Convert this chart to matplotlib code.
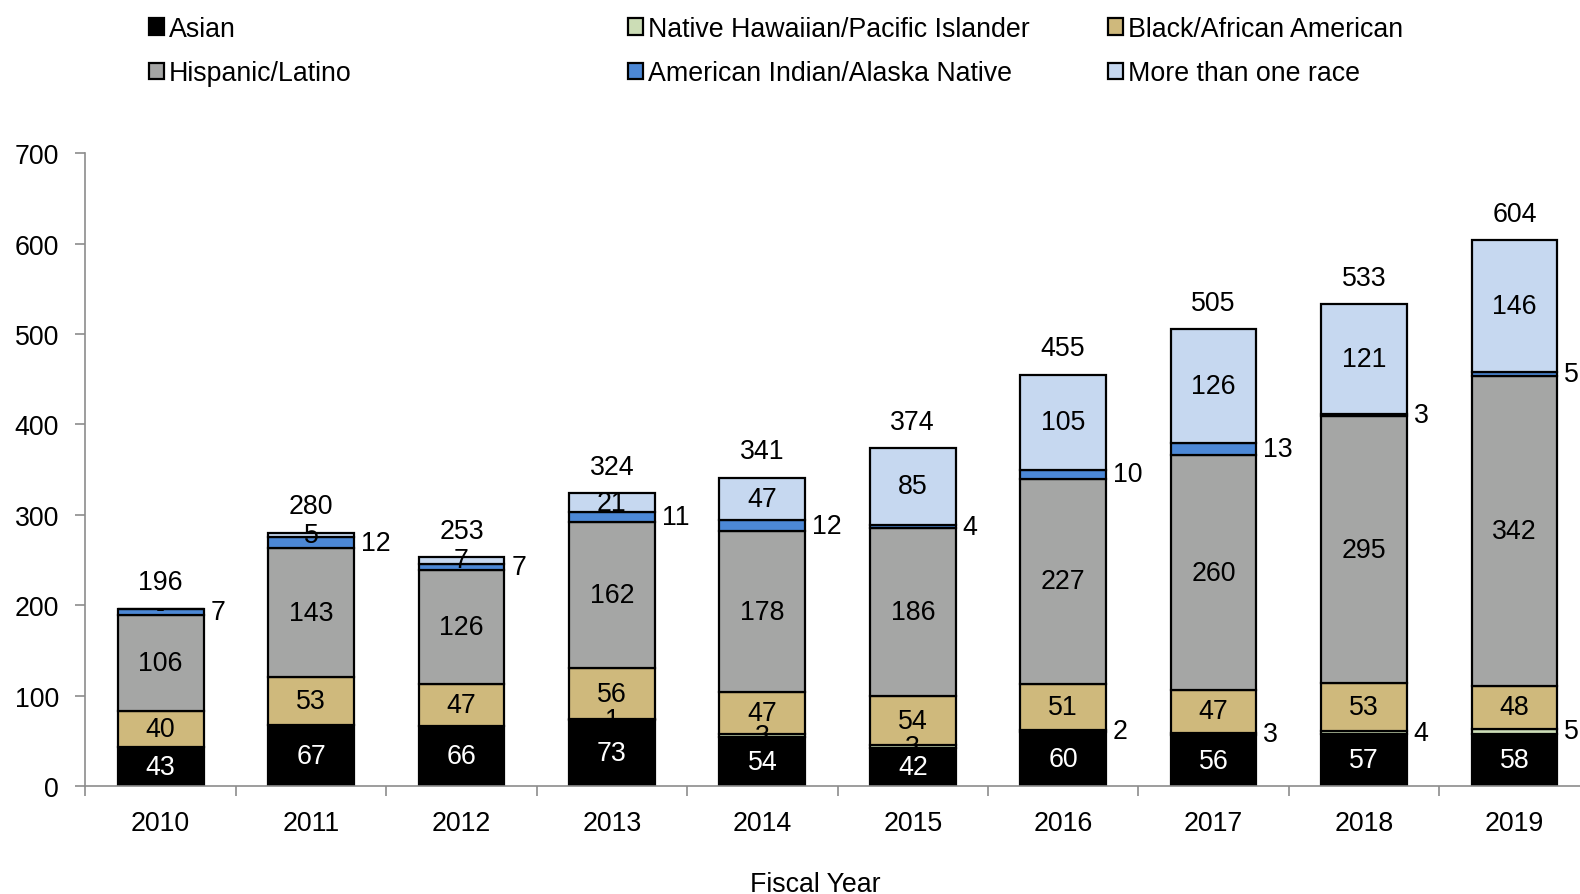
"""
Stacked bars by race, fiscal years 2010-2019
"""

import matplotlib.pyplot as plt
import numpy as np

plt.rcParams['font.family'] = ['Liberation Sans', 'DejaVu Sans']

# categories
years = ['2010', '2011', '2012', '2013', '2014', '2015', '2016', '2017', '2018', '2019']

# values per group, bottom to top of each stack
asian = [43, 67, 66, 73, 54, 42, 60, 56, 57, 58]
hawaiian = [0, 0, 0, 1, 3, 3, 2, 3, 4, 5]
black = [40, 53, 47, 56, 47, 54, 51, 47, 53, 48]
hispanic = [106, 143, 126, 162, 178, 186, 227, 260, 295, 342]
indian = [7, 12, 7, 11, 12, 4, 10, 13, 3, 5]
multi = [0, 5, 7, 21, 47, 85, 105, 126, 121, 146]

names = ['Asian', 'Native Hawaiian/Pacific Islander', 'Black/African American',
         'Hispanic/Latino', 'American Indian/Alaska Native', 'More than one race']
colores = ['#000000', '#CCDDB6', '#CFB97C', '#A5A6A5', '#4C88D6', '#C6D8F0']
series = [asian, hawaiian, black, hispanic, indian, multi]

x = np.arange(len(years))
width = 0.57
fs = 19.3

fig = plt.figure(figsize=(15.8, 8.95), dpi=100)
ax = fig.add_axes([0.0541, 0.1207, 0.952, 0.707])

bottom = np.zeros(len(years))
bars = []
for i, vals in enumerate(series):
    vals = np.array(vals)
    b = ax.bar(x, vals, width, bottom=bottom, color=colores[i], edgecolor='black',
               linewidth=1.6, label=names[i], zorder=2)
    bars.append(b)
    for j in range(len(years)):
        v = vals[j]
        mid = bottom[j] + v / 2
        # texto del segmento
        if i == 0:
            ax.text(x[j], mid, str(v), ha='center', va='center', color='white', fontsize=fs, zorder=4)
        elif i == 1:
            if v == 0:
                continue
            if j < 6:
                ax.text(x[j], mid, str(v), ha='center', va='center', fontsize=fs, zorder=4)
            else:
                ax.annotate(str(v), (x[j] + width / 2, mid), xytext=(5, 0), textcoords='offset points',
                            ha='left', va='center', fontsize=fs, zorder=4)
        elif i == 4:
            ax.annotate(str(v), (x[j] + width / 2, mid), xytext=(5, 0), textcoords='offset points',
                        ha='left', va='center', fontsize=fs, zorder=4)
        else:
            lab = str(v) if v != 0 else '-'
            ax.text(x[j], mid, lab, ha='center', va='center', fontsize=fs, zorder=4)
    bottom = bottom + vals

# totales arriba
for j in range(len(years)):
    ax.annotate(str(int(bottom[j])), (x[j], bottom[j]), xytext=(0, 19), textcoords='offset points',
                ha='center', va='center', fontsize=fs)

# ejes
ax.set_xlim(-0.5, len(years) - 0.5)
ax.set_ylim(0, 700)
ax.set_yticks(np.arange(0, 701, 100))
ax.set_xticks(x)
ax.set_xticklabels(years)
ax.set_xticks(np.arange(-0.5, len(years)), minor=True)
ax.tick_params(axis='x', which='major', length=0, pad=17, labelsize=fs)
ax.tick_params(axis='x', which='minor', length=7, width=1.2, color='#8C8C8C', direction='out')
ax.tick_params(axis='y', length=7, width=1.2, color='#8C8C8C', pad=12, labelsize=fs)
for s in ['top', 'right']:
    ax.spines[s].set_visible(False)
for s in ['left', 'bottom']:
    ax.spines[s].set_color('#8C8C8C')
    ax.spines[s].set_linewidth(1.2)

fig.text(815 / 1580, 1 - 885 / 895, 'Fiscal Year', ha='center', va='center', fontsize=fs)

# leyenda en tres columnas
cols = [(0, 3), (1, 4), (2, 5)]
xpos = [149, 628, 1108]
for (a, b), xp in zip(cols, xpos):
    leg = fig.legend([bars[a], bars[b]], [names[a], names[b]], loc='upper left',
                     bbox_to_anchor=(xp / 1580, 0.981), frameon=False, fontsize=fs,
                     handlelength=0.55, handleheight=0.55, handletextpad=0.2,
                     borderpad=0, borderaxespad=0, labelspacing=0.68)
    for h in leg.legend_handles:
        h.set_linewidth(1.6)

plt.savefig('out.png', dpi=100)
